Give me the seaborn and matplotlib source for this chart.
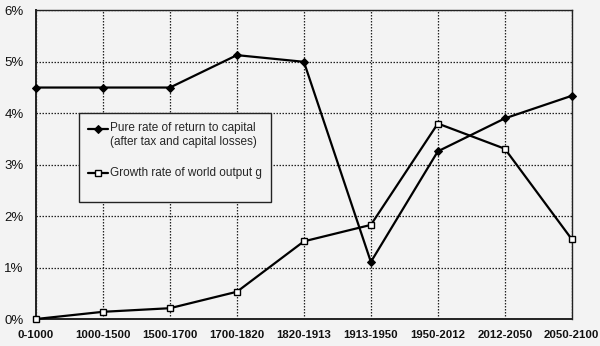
import numpy as np
import pandas as pd
import matplotlib
matplotlib.use("Agg")
import matplotlib.pyplot as plt
from matplotlib.legend_handler import HandlerLine2D
import seaborn as sns

periods = ["0-1000", "1000-1500", "1500-1700", "1700-1820", "1820-1913",
           "1913-1950", "1950-2012", "2012-2050", "2050-2100"]
return_rate = [4.5, 4.5, 4.5, 5.13, 5.0, 1.11, 3.26, 3.9, 4.34]
growth_rate = [0.0, 0.14, 0.21, 0.53, 1.51, 1.83, 3.8, 3.31, 1.55]
r_label = "Pure rate of return to capital\n(after tax and capital losses)"
g_label = "Growth rate of world output g"
y_ticks = [0, 1, 2, 3, 4, 5, 6]

bg = "#f3f3f3"
ink = "#111111"
sns.set_theme(style="white")
plt.rcParams["font.family"] = ["Liberation Sans", "DejaVu Sans"]

fig = plt.figure(figsize=(6.0, 3.46), dpi=100, facecolor=bg)
ax = fig.add_axes([0.06, 0.078, 0.893, 0.892])
ax.set_facecolor(bg)

x = np.arange(len(periods))
df_r = pd.DataFrame({"x": x, "v": return_rate})
df_g = pd.DataFrame({"x": x, "v": growth_rate})

sns.lineplot(data=df_r, x="x", y="v", ax=ax, color="black", lw=1.6,
             marker="D", markersize=5.5, markerfacecolor="black",
             markeredgecolor="black", label=r_label, zorder=4)
sns.lineplot(data=df_g, x="x", y="v", ax=ax, color="black", lw=1.6,
             marker="s", markersize=5.8, markerfacecolor="white",
             markeredgecolor="black", markeredgewidth=1.0,
             label=g_label + "\n", zorder=4)
for line in ax.lines:
    line.set_clip_on(False)

ax.set_xlim(0, len(periods) - 1)
ax.set_ylim(0, 6)
ax.set_xticks(x)
ax.set_xticklabels(periods, fontsize=8.2, color=ink, fontweight="bold")
ax.set_yticks(y_ticks)
ax.set_yticklabels([f"{t}%" for t in y_ticks], fontsize=9.5, color=ink)
ax.set_xlabel("")
ax.set_ylabel("")
ax.tick_params(axis="both", length=0)
ax.tick_params(axis="y", pad=9)
ax.tick_params(axis="x", pad=8)

ax.grid(True, color="#222222", linestyle=(0, (1.2, 1.2)), linewidth=0.9)
ax.set_axisbelow(True)
for side, sp in ax.spines.items():
    sp.set_visible(True)
    sp.set_color("#222222")
    sp.set_linewidth(1.4 if side in ("left", "bottom") else 1.0)


class RaisedLineHandler(HandlerLine2D):
    """Places the legend handle next to the first line of a two-line label."""

    def __init__(self, raise_pts=0.0, **kw):
        super().__init__(**kw)
        self.raise_pts = raise_pts

    def create_artists(self, legend, orig_handle, xdescent, ydescent,
                       width, height, fontsize, trans):
        return super().create_artists(legend, orig_handle, xdescent,
                                      ydescent - 2 * self.raise_pts, width,
                                      height, fontsize, trans)


handles, labels = ax.get_legend_handles_labels()
for h in handles:
    h.set_markersize(4.5)
leg = ax.legend(handles, labels, loc="upper left",
                bbox_to_anchor=(0.080, 0.668), borderaxespad=0,
                fontsize=8.5, frameon=True, fancybox=False, framealpha=1,
                facecolor=bg, edgecolor="#222222", handlelength=1.7,
                handletextpad=0.1, labelspacing=1.6, borderpad=0.8,
                handler_map={h: RaisedLineHandler(raise_pts=4.9)
                             for h in handles})
leg.get_frame().set_linewidth(1.0)
leg.set_zorder(5)

fig.savefig("out.png", dpi=100, facecolor=bg)
